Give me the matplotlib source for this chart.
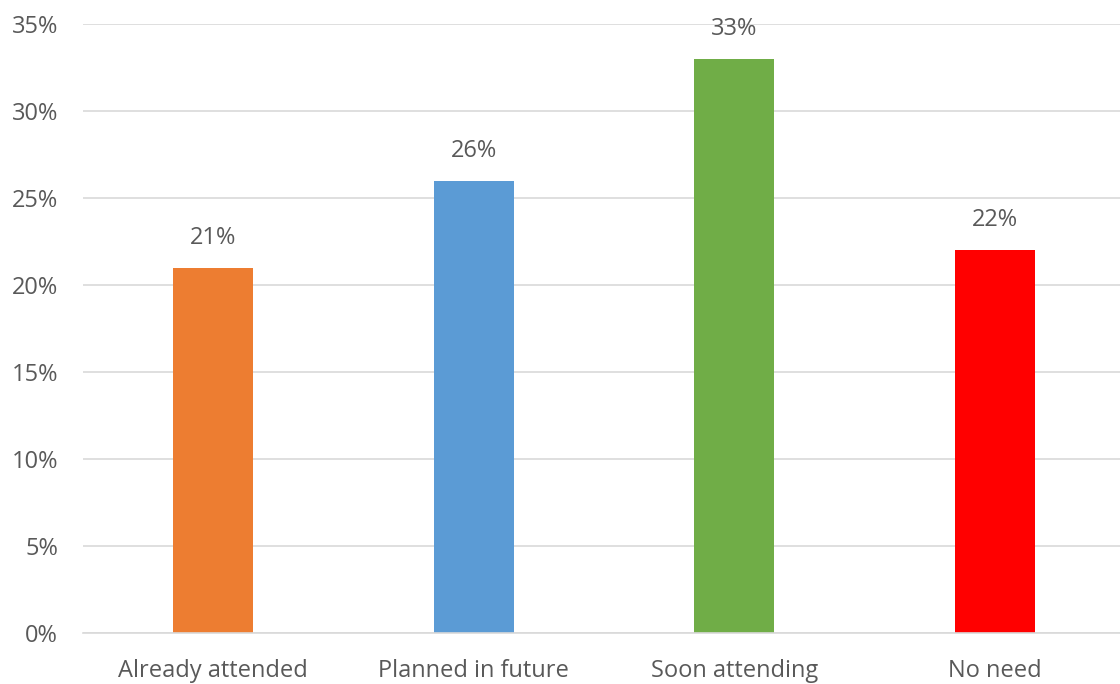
import matplotlib.pyplot as plt
from matplotlib.ticker import PercentFormatter

categories = ["Already attended", "Planned in future", "Soon attending", "No need"]
shares = [21, 26, 33, 22]
colors = ["#ED7D31", "#5B9BD5", "#70AD47", "#FF0000"]
y_ticks = [0, 5, 10, 15, 20, 25, 30, 35]

plt.rcParams["font.family"] = ["Open Sans", "DejaVu Sans"]
text_color = "#595959"
fs = 17

fig = plt.figure(figsize=(11.2, 6.84), dpi=100)
ax = fig.add_axes([83 / 1120, 51 / 684, 1037 / 1120, 609 / 684])

x = range(len(categories))
bars = ax.bar(x, shares, width=0.307, color=colors, zorder=2)

# value labels above each bar
for rect, v in zip(bars, shares):
    ax.annotate(f"{v}%", (rect.get_x() + rect.get_width() / 2, v),
                xytext=(0, 13), textcoords="offset points",
                ha="center", va="bottom", fontsize=fs, color=text_color)

ax.set_xlim(-0.5, 3.48)
ax.set_ylim(0, 35)
ax.set_yticks(y_ticks)
ax.yaxis.set_major_formatter(PercentFormatter(decimals=0))
ax.set_xticks(list(x))
ax.set_xticklabels(categories)
ax.grid(axis="y", color="#D9D9D9", linewidth=1.2, zorder=0)
ax.tick_params(axis="both", length=0, labelsize=fs, labelcolor=text_color)
ax.tick_params(axis="y", pad=18)
ax.tick_params(axis="x", pad=19)
for s in ["top", "right", "left"]:
    ax.spines[s].set_visible(False)
ax.spines["bottom"].set_color("#D9D9D9")
ax.spines["bottom"].set_linewidth(1.2)

fig.savefig("out.png", dpi=100)
